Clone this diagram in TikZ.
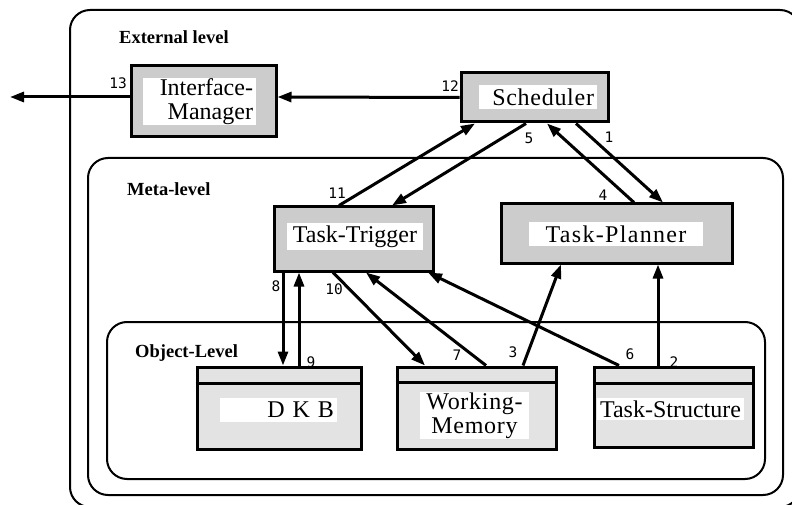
\documentclass[tikz,border=0pt]{standalone}
\usepackage{fontspec}
\setmainfont{Liberation Serif}
\newfontfamily\numfont{DejaVu Sans Mono}
\usetikzlibrary{arrows.meta}

\tikzset{
  level/.style={draw, line width=2pt, rounded corners=20pt},
  levelname/.style={anchor=west, inner sep=0pt, font=\fontsize{18.5}{20}\selectfont\bfseries},
  modbox/.style={draw, line width=3pt, fill=black!20, inner sep=0pt},
  objbox/.style={draw, line width=3pt, fill=black!11, inner sep=0pt},
  boxtext/.style={fill=white, inner xsep=3pt, inner ysep=0pt, font=\fontsize{24}{24}\selectfont},
  num/.style={inner sep=0pt, font=\numfont\fontsize{14.5}{15}\selectfont},
  flow/.style={line width=3pt, -{Triangle[length=14pt,width=10pt]}}
}

\begin{document}
\begin{tikzpicture}[x=1pt, y=-1pt]
\clip (0,0) rectangle (792,505);

\draw[level] (70,10) rectangle (800,507);
\draw[level] (88,158) rectangle (783,495);
\draw[level] (107,322) rectangle (765,479);
\node[levelname] (ext) at (119,37) {External level};
\node[levelname] (meta) at (127,189) {Meta-level};
\node[levelname] (obj) at (135,353) {Object-Level};

\node[modbox, minimum width=145pt, minimum height=71pt] (im) at (203.5,101.5) {};
\node[boxtext, text width=107pt, minimum height=47pt, align=right] (imtxt) at (199.5,101.5) {Interface-\\Manager};
\node[modbox, minimum width=147pt, minimum height=49pt] (sched) at (534.5,97.5) {};
\node[boxtext, text width=112pt, minimum height=24pt, align=right] (schedtxt) at (538,97) {\addfontfeature{LetterSpace=3}Scheduler};
\node[modbox, minimum width=159pt, minimum height=64pt] (trig) at (353.5,239) {};
\node[boxtext, minimum width=136pt, minimum height=27pt] (trigtxt) at (355,236.5) {Task-Trigger};
\node[modbox, minimum width=231pt, minimum height=59pt] (plan) at (616.5,233.5) {};
\node[boxtext, minimum width=174pt, minimum height=24pt] (plantxt) at (616,234) {\addfontfeature{LetterSpace=5.5}Task-Planner};

\node[objbox, minimum width=164pt, minimum height=82pt] (dkb) at (279,408) {};
\draw[line width=3pt] ([yshift=-18pt]dkb.north west) -- ([yshift=-18pt]dkb.north east);
\node[boxtext, text width=111pt, minimum height=24pt, align=right] (dkbtxt) at (278.5,410) {D K B};
\node[objbox, minimum width=159pt, minimum height=82pt] (wm) at (476.5,408) {};
\draw[line width=3pt] ([yshift=-17pt]wm.north west) -- ([yshift=-17pt]wm.north east);
\node[boxtext, text width=103pt, minimum height=47pt, align=center] (wmtxt) at (474.5,415.5) {\addfontfeature{LetterSpace=3}Working-\\\addfontfeature{LetterSpace=3}Memory};
\node[objbox, minimum width=159pt, minimum height=80pt] (ts) at (673.5,407) {};
\draw[line width=3pt] ([yshift=-18pt]ts.north west) -- ([yshift=-18pt]ts.north east);
\node[boxtext, minimum width=145pt, minimum height=22pt] (tstxt) at (670.5,409) {Task-Structure};

\coordinate (exit) at (10,97);
\draw[flow] ([yshift=4.5pt]im.west) -- (exit);
\draw[flow] (sched.west) -- ([yshift=4.5pt]im.east);
\draw[flow] ([xshift=-8.5pt]sched.south) -- ([xshift=38.5pt]trig.north);
\draw[flow] ([xshift=-14.5pt]trig.north) -- ([xshift=-59.5pt]sched.south);
\draw[flow] ([xshift=41.5pt]sched.south) -- ([xshift=46.5pt]plan.north);
\draw[flow] ([xshift=17.5pt]plan.north) -- ([xshift=12.5pt]sched.south);
\draw[flow] ([xshift=-70.5pt]trig.south) -- ([xshift=4pt]dkb.north);
\draw[flow] ([xshift=20pt]dkb.north) -- ([xshift=-54.5pt]trig.south);
\draw[flow] ([xshift=-20.5pt]trig.south) -- ([xshift=-51.5pt]wm.north);
\draw[flow] ([xshift=9.5pt]wm.north) -- ([xshift=12.5pt]trig.south);
\draw[flow] ([xshift=46.5pt]wm.north) -- ([xshift=-55.5pt]plan.south);
\draw[flow] ([xshift=-54.5pt]ts.north) -- ([xshift=74.5pt]trig.south);
\draw[flow] ([xshift=-15.5pt]ts.north) -- ([xshift=41.5pt]plan.south);

\foreach \n/\x/\y in {13/118/83, 12/450/86, 5/529/138, 11/337/193, 1/609/137, 4/603/195,
  8/276/286, 10/334/289, 9/311/362, 7/457/355, 3/513/352, 6/630/354, 2/674/362}
  \node[num] (n\n) at (\x,\y) {\n};
\end{tikzpicture}
\end{document}
